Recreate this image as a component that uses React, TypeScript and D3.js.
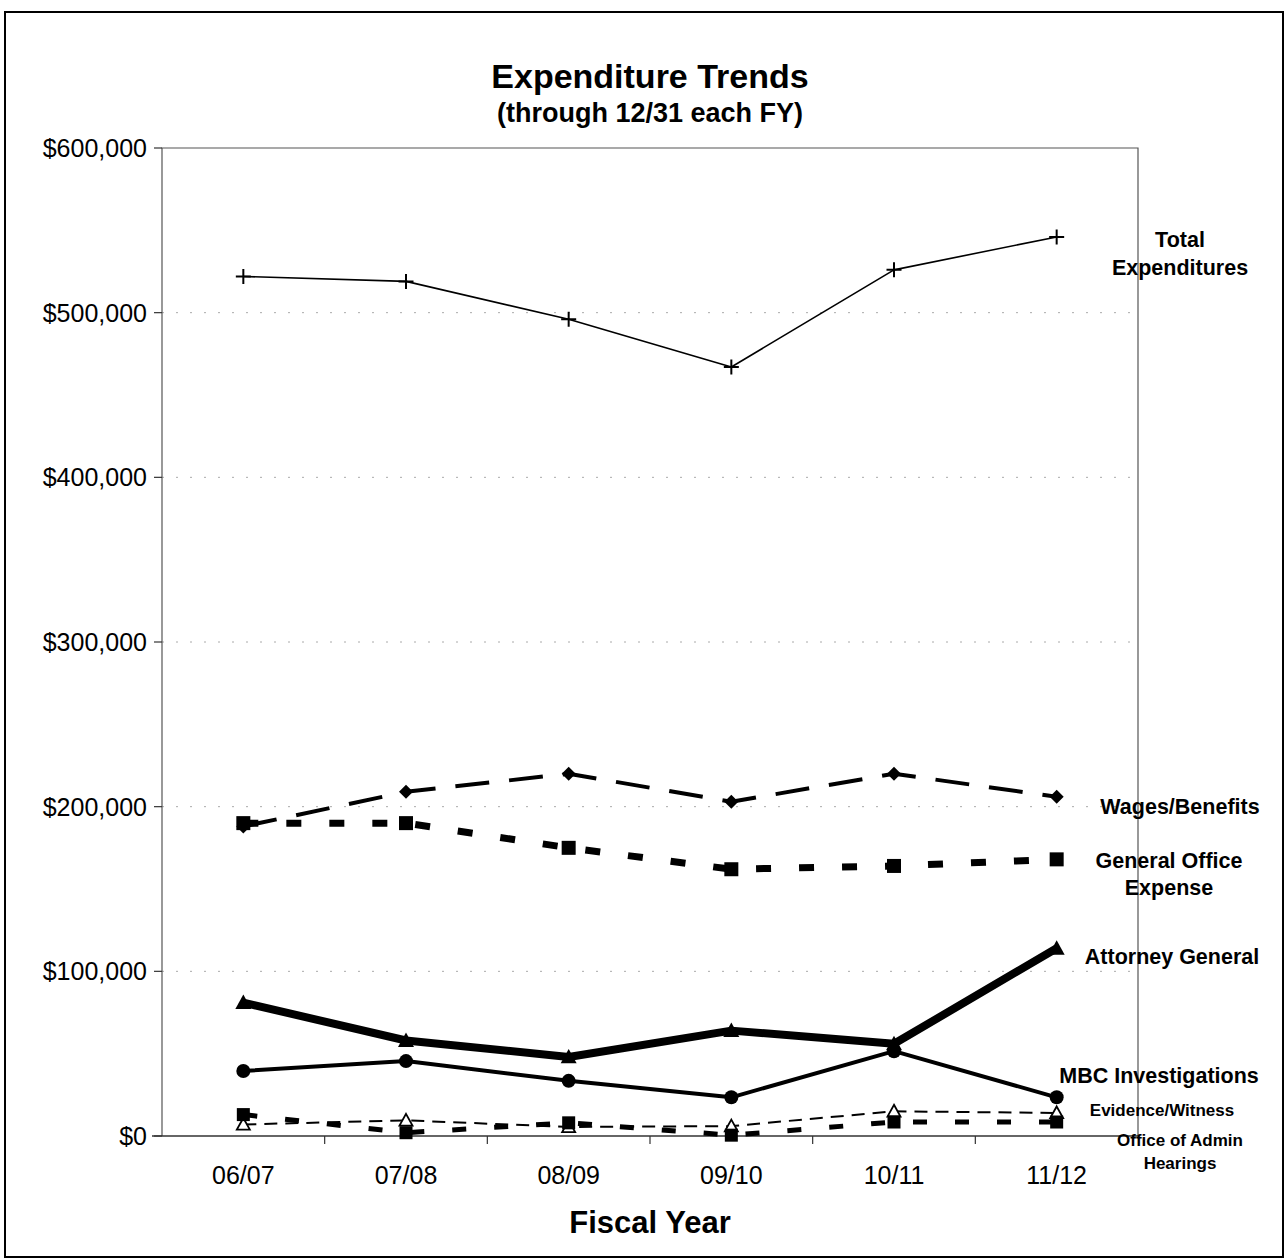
import React from 'react'
import * as d3 from 'd3'

const years = ['06/07', '07/08', '08/09', '09/10', '10/11', '11/12']
const totalExp = [522000, 519000, 496000, 467000, 526000, 546000]
const wages = [188000, 209000, 220000, 203000, 220000, 206000]
const generalOffice = [190000, 190000, 175000, 162000, 164000, 168000]
const attorneyGeneral = [81000, 58000, 48000, 64000, 56000, 114000]
const mbcInvestigations = [39500, 45500, 33500, 23500, 51500, 23500]
const evidenceWitness = [7000, 9500, 5500, 6000, 15000, 14000]
const adminHearings = [13000, 2000, 8000, 500, 8500, 8500]
const yTicks = [0, 100000, 200000, 300000, 400000, 500000, 600000]

type Marker = 'plus' | 'diamond' | 'square' | 'triangle' | 'circle' | 'openTriangle'

interface Series {
  name: string
  values: number[]
  width: number
  dash: string
  marker: Marker
  size: number
}

const series: Series[] = [
  { name: 'Total Expenditures', values: totalExp, width: 1.6, dash: '', marker: 'plus', size: 15 },
  { name: 'Wages/Benefits', values: wages, width: 4, dash: '34 20', marker: 'diamond', size: 14 },
  { name: 'General Office Expense', values: generalOffice, width: 7, dash: '15 28', marker: 'square', size: 14 },
  { name: 'Attorney General', values: attorneyGeneral, width: 8, dash: '', marker: 'triangle', size: 16 },
  { name: 'MBC Investigations', values: mbcInvestigations, width: 4, dash: '', marker: 'circle', size: 14 },
  { name: 'Evidence/Witness', values: evidenceWitness, width: 2, dash: '13 8', marker: 'openTriangle', size: 13 },
  { name: 'Office of Admin Hearings', values: adminHearings, width: 5, dash: '14 28', marker: 'square', size: 13 },
]

// labels to the right of the plot (lines of text, center x, first baseline, size, line step)
const labels = [
  { lines: ['Total', 'Expenditures'], x: 1180, y: 247, size: 21.5, step: 28 },
  { lines: ['Wages/Benefits'], x: 1180, y: 814, size: 21.5, step: 0 },
  { lines: ['General Office', 'Expense'], x: 1169, y: 868, size: 21.5, step: 27 },
  { lines: ['Attorney General'], x: 1172, y: 964, size: 21.5, step: 0 },
  { lines: ['MBC Investigations'], x: 1159, y: 1083, size: 21.5, step: 0 },
  { lines: ['Evidence/Witness'], x: 1162, y: 1116, size: 17, step: 0 },
  { lines: ['Office of Admin', 'Hearings'], x: 1180, y: 1146, size: 17, step: 23 },
]

const font = '"Liberation Sans", Arial, sans-serif'

const left = 162
const right = 1138
const top = 148
const bottom = 1136

function MarkerShape({ type, x, y, s }: { type: Marker; x: number; y: number; s: number }) {
  const h = s / 2
  if (type === 'plus') {
    return <path d={`M${x - h},${y}H${x + h}M${x},${y - h}V${y + h}`} stroke="#000" strokeWidth={2} />
  }
  if (type === 'diamond') {
    return <path d={`M${x},${y - h}L${x + h},${y}L${x},${y + h}L${x - h},${y}Z`} fill="#000" />
  }
  if (type === 'square') {
    return <rect x={x - h} y={y - h} width={s} height={s} fill="#000" />
  }
  if (type === 'circle') {
    return <circle cx={x} cy={y} r={h} fill="#000" />
  }
  const tri = `M${x},${y - h}L${x + h},${y + h * 0.8}L${x - h},${y + h * 0.8}Z`
  if (type === 'triangle') return <path d={tri} fill="#000" />
  return <path d={tri} fill="#fff" stroke="#000" strokeWidth={1.8} />
}

export default function App() {
  const x = d3.scaleBand<string>().domain(years).range([left, right])
  const y = d3.scaleLinear().domain([0, 600000]).range([bottom, top])
  const cx = (d: string) => (x(d) ?? 0) + x.bandwidth() / 2
  const fmt = (v: number) => '$' + d3.format(',')(v)

  const line = d3.line<number>()
    .x((_, i) => cx(years[i]))
    .y(d => y(d))

  return (
    <svg width={1287} height={1260} style={{ position: 'absolute', left: 0, top: 0, background: '#fff' }}>
      <rect x={0} y={0} width={1287} height={1260} fill="#fff" />
      <rect x={5} y={12} width={1278} height={1245} fill="none" stroke="#000" strokeWidth={2} />

      <text x={650} y={88} textAnchor="middle" fontFamily={font} fontWeight="bold" fontSize={34}>Expenditure Trends</text>
      <text x={650} y={122} textAnchor="middle" fontFamily={font} fontWeight="bold" fontSize={27}>(through 12/31 each FY)</text>

      {/* gridlines */}
      {yTicks.slice(1, -1).map(t => (
        <line key={t} x1={left} x2={right} y1={y(t)} y2={y(t)} stroke="#aaa" strokeWidth={1} strokeDasharray="2 12" />
      ))}

      {/* plot frame */}
      <path d={`M${left},${bottom}V${top}H${right}V${bottom}`} fill="none" stroke="#555" strokeWidth={1.2} />
      <line x1={left - 10} x2={right} y1={bottom} y2={bottom} stroke="#333" strokeWidth={1.5} />

      {/* y axis */}
      {yTicks.map(t => (
        <g key={t}>
          <line x1={left - 8} x2={left} y1={y(t)} y2={y(t)} stroke="#333" strokeWidth={1.2} />
          <text x={147} y={y(t) + 9} textAnchor="end" fontFamily={font} fontSize={25}>{fmt(t)}</text>
        </g>
      ))}

      {/* x axis */}
      {years.slice(1).map(d => (
        <line key={d} x1={x(d)} x2={x(d)} y1={bottom} y2={bottom + 8} stroke="#333" strokeWidth={1.2} />
      ))}
      {years.map(d => (
        <text key={d} x={cx(d)} y={1184} textAnchor="middle" fontFamily={font} fontSize={25}>{d}</text>
      ))}
      <text x={650} y={1233} textAnchor="middle" fontFamily={font} fontWeight="bold" fontSize={31}>Fiscal Year</text>

      {/* series */}
      {series.map(s => (
        <g key={s.name}>
          <path d={line(s.values) ?? ''} fill="none" stroke="#000" strokeWidth={s.width}
            strokeDasharray={s.dash || undefined} strokeLinejoin="round" />
          {s.values.map((v, i) => (
            <MarkerShape key={i} type={s.marker} x={cx(years[i])} y={y(v)} s={s.size} />
          ))}
        </g>
      ))}

      {/* series labels */}
      {labels.map(l => (
        <text key={l.lines[0]} x={l.x} y={l.y} textAnchor="middle" fontFamily={font} fontWeight="bold" fontSize={l.size}>
          {l.lines.map((t, i) => (
            <tspan key={i} x={l.x} dy={i === 0 ? 0 : l.step}>{t}</tspan>
          ))}
        </text>
      ))}
    </svg>
  )
}
